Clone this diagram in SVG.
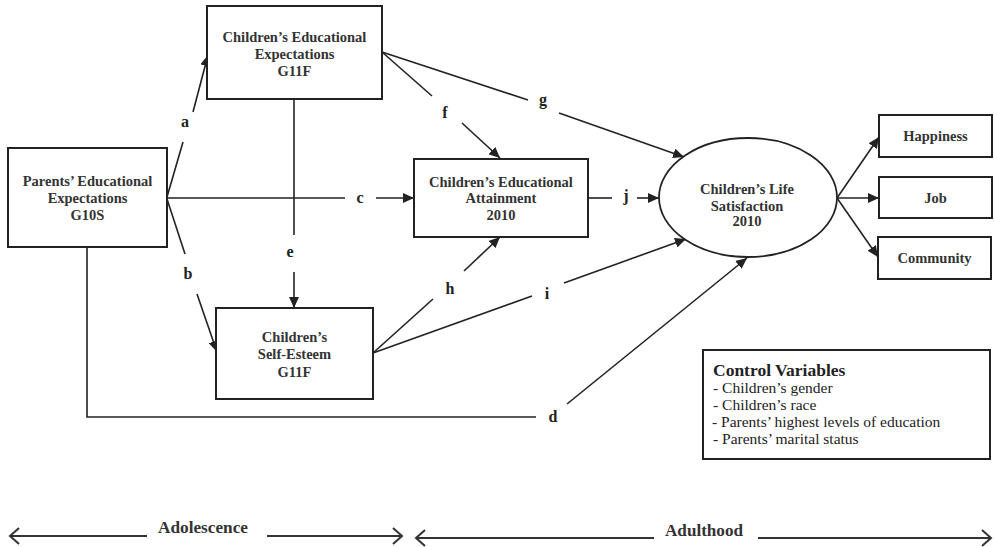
<svg xmlns="http://www.w3.org/2000/svg" width="994" height="547" viewBox="0 0 994 547">
<style>
.box{fill:#fff;stroke:#222;stroke-width:2}
.t{font-family:"Liberation Serif","Times New Roman",serif;font-weight:bold;font-size:14.5px;fill:#333;text-anchor:middle}
.lbl{font-family:"Liberation Serif","Times New Roman",serif;font-weight:bold;font-size:16px;fill:#222;text-anchor:middle}
.ln{fill:none;stroke:#222;stroke-width:1.6}
.arr{marker-end:url(#ah)}
.cv{font-family:"Liberation Serif","Times New Roman",serif;font-size:15.5px;fill:#222}
.cvt{font-family:"Liberation Serif","Times New Roman",serif;font-size:17.5px;font-weight:bold;fill:#222}
.tl{fill:none;stroke:#333;stroke-width:2}
.per{font-family:"Liberation Serif","Times New Roman",serif;font-weight:bold;font-size:16px;fill:#333;text-anchor:middle}
</style>
<defs>
<marker id="ah" markerUnits="userSpaceOnUse" markerWidth="12" markerHeight="10" refX="11" refY="5" orient="auto">
<path d="M0,0 L11,5 L0,10 z" fill="#222"/>
</marker>
<marker id="oh" markerUnits="userSpaceOnUse" markerWidth="12" markerHeight="18" refX="10" refY="9" orient="auto-start-reverse">
<path d="M1,1 L10,9 L1,17" fill="none" stroke="#333" stroke-width="2"/>
</marker>
</defs>

<g id="connectors">
<!-- a -->
<line class="ln" x1="167" y1="197" x2="183" y2="142"/>
<line class="ln arr" x1="193" y1="112" x2="208" y2="55"/>
<!-- b -->
<line class="ln" x1="167" y1="199" x2="185" y2="254"/>
<line class="ln arr" x1="197" y1="294" x2="217" y2="352"/>
<!-- c -->
<line class="ln" x1="167" y1="198" x2="345" y2="198"/>
<line class="ln arr" x1="376" y1="198" x2="414" y2="198"/>
<!-- e -->
<line class="ln" x1="294" y1="99" x2="294" y2="235"/>
<line class="ln arr" x1="294" y1="272" x2="294" y2="308"/>
<!-- f -->
<line class="ln" x1="382" y1="52" x2="432" y2="96"/>
<line class="ln arr" x1="462" y1="123" x2="500" y2="158"/>
<!-- g -->
<line class="ln" x1="382" y1="52" x2="528" y2="100"/>
<line class="ln arr" x1="559" y1="113" x2="684" y2="157"/>
<!-- h -->
<line class="ln" x1="373" y1="353" x2="433" y2="299"/>
<line class="ln arr" x1="464" y1="271" x2="500" y2="237"/>
<!-- i -->
<line class="ln" x1="373" y1="353" x2="532" y2="296"/>
<line class="ln arr" x1="564" y1="283" x2="686" y2="239"/>
<!-- j -->
<line class="ln" x1="588" y1="198" x2="612" y2="198"/>
<line class="ln arr" x1="637" y1="198" x2="659" y2="198"/>
<!-- d -->
<polyline class="ln" points="87,247 87,417 536,417"/>
<line class="ln arr" x1="567" y1="404" x2="747" y2="258"/>
<!-- outcomes -->
<line class="ln arr" x1="837" y1="198" x2="879" y2="137"/>
<line class="ln arr" x1="837" y1="198" x2="879" y2="198"/>
<line class="ln arr" x1="837" y1="198" x2="878" y2="257"/>
<!-- labels -->
<text class="lbl" x="185" y="127">a</text>
<text class="lbl" x="188" y="279">b</text>
<text class="lbl" x="360" y="203">c</text>
<text class="lbl" x="290" y="257">e</text>
<text class="lbl" x="445" y="118">f</text>
<text class="lbl" x="543" y="105">g</text>
<text class="lbl" x="450" y="294">h</text>
<text class="lbl" x="547" y="299">i</text>
<text class="lbl" x="626" y="201">j</text>
<text class="lbl" x="553" y="422">d</text>
</g>

<g id="parents">
<rect class="box" x="8" y="148" width="159" height="99"/>
<text class="t" x="87.5" y="186">Parents’ Educational</text>
<text class="t" x="87.5" y="203">Expectations</text>
<text class="t" x="87.5" y="220">G10S</text>
</g>

<g id="child-expectations">
<rect class="box" x="207" y="6" width="175" height="93"/>
<text class="t" x="294.5" y="42">Children’s Educational</text>
<text class="t" x="294.5" y="59">Expectations</text>
<text class="t" x="294.5" y="76">G11F</text>
</g>

<g id="self-esteem">
<rect class="box" x="216" y="308" width="157" height="91"/>
<text class="t" x="294.5" y="342">Children’s</text>
<text class="t" x="294.5" y="359">Self-Esteem</text>
<text class="t" x="294.5" y="377">G11F</text>
</g>

<g id="attainment">
<rect class="box" x="414" y="159" width="174" height="78"/>
<text class="t" x="501" y="187">Children’s Educational</text>
<text class="t" x="501" y="203">Attainment</text>
<text class="t" x="501" y="220">2010</text>
</g>

<g id="life-satisfaction">
<ellipse class="box" cx="748" cy="197.5" rx="89" ry="59.5" style="stroke-width:1.8"/>
<text class="t" x="747" y="194">Children’s Life</text>
<text class="t" x="747" y="210.5">Satisfaction</text>
<text class="t" x="747" y="226">2010</text>
</g>

<g id="happiness">
<rect class="box" x="879" y="115" width="113" height="42"/>
<text class="t" x="935.5" y="141">Happiness</text>
</g>

<g id="job">
<rect class="box" x="879" y="177" width="113" height="41"/>
<text class="t" x="935.5" y="202.5">Job</text>
</g>

<g id="community">
<rect class="box" x="878" y="237" width="113" height="42"/>
<text class="t" x="934.5" y="263">Community</text>
</g>

<g id="control-variables">
<rect class="box" x="703" y="350" width="287" height="109"/>
<text class="cvt" x="713" y="376">Control Variables</text>
<text class="cv" x="713" y="393">- Children’s gender</text>
<text class="cv" x="713" y="410">- Children’s race</text>
<text class="cv" x="712" y="427">- Parents’ highest levels of education</text>
<text class="cv" x="713" y="444">- Parents’ marital status</text>
</g>

<g id="timeline">
<line class="tl" x1="10" y1="536" x2="147" y2="536" style="marker-start:url(#oh)"/>
<line class="tl" x1="267" y1="536" x2="402" y2="536" style="marker-end:url(#oh)"/>
<text class="per" x="203" y="533" textLength="90" lengthAdjust="spacingAndGlyphs">Adolescence</text>
<line class="tl" x1="416" y1="538" x2="654" y2="538" style="marker-start:url(#oh)"/>
<line class="tl" x1="758" y1="538" x2="991" y2="538" style="marker-end:url(#oh)"/>
<text class="per" x="704" y="536" textLength="78" lengthAdjust="spacingAndGlyphs">Adulthood</text>
</g>
</svg>
